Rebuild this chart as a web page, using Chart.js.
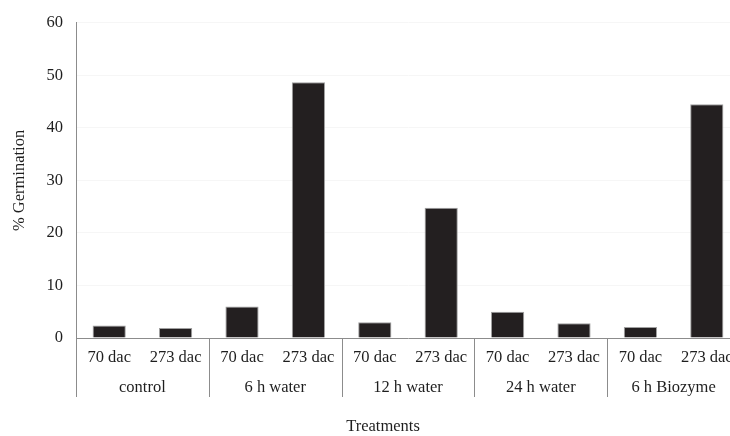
<!DOCTYPE html>
<html>
<head>
<meta charset="utf-8">
<script src="https://cdn.jsdelivr.net/npm/chart.js@4/dist/chart.umd.min.js"></script>
<style>
  html, body { margin: 0; padding: 0; background: #fff; overflow: hidden; }
  #wrap { width: 740px; height: 436px; }
</style>
</head>
<body>
<div id="wrap"><canvas id="germChart"></canvas></div>
<script>
// treatments and the two sampling dates inside each one
const treatments = ['control', '6 h water', '12 h water', '24 h water', '6 h Biozyme'];
const dates = ['70 dac', '273 dac'];
// % germination, in treatment order, 70 dac then 273 dac
const germination = [2.4, 1.9, 6.0, 48.7, 3.0, 24.8, 5.0, 2.8, 2.1, 44.5];
const yTicks = [0, 10, 20, 30, 40, 50, 60];

const FONT = '"Liberation Serif", "Times New Roman", serif';
const AXIS_GREY = '#8c8c8c';

const labels = treatments.flatMap(t => dates.map(d => t + '|' + d));

// draws the two rows of category labels, the group dividers and axis titles
const groupLabels = {
  id: 'groupLabels',
  afterDraw(chart) {
    const ctx = chart.ctx;
    const x = chart.scales.x;
    const area = chart.chartArea;
    const n = dates.length;
    const bottom = area.bottom + 59;
    ctx.save();
    ctx.fillStyle = '#1e1e1e';
    ctx.font = '16.5px ' + FONT;
    ctx.textAlign = 'center';
    ctx.textBaseline = 'middle';

    labels.forEach((l, i) => {
      ctx.fillText(l.split('|')[1], x.getPixelForValue(i), area.bottom + 20);
    });

    treatments.forEach((t, g) => {
      const a = x.getPixelForValue(g * n);
      const b = x.getPixelForValue(g * n + n - 1);
      ctx.fillText(t, (a + b) / 2, area.bottom + 50);
    });

    ctx.strokeStyle = AXIS_GREY;
    ctx.lineWidth = 1;
    ctx.beginPath();
    ctx.moveTo(Math.round(area.left) + 0.5, area.bottom);
    ctx.lineTo(Math.round(area.left) + 0.5, bottom);
    for (let g = 1; g < treatments.length; g++) {
      const sep = (x.getPixelForValue(g * n - 1) + x.getPixelForValue(g * n)) / 2;
      ctx.moveTo(Math.round(sep) + 0.5, area.bottom);
      ctx.lineTo(Math.round(sep) + 0.5, bottom);
    }
    ctx.stroke();

    // axis titles
    ctx.fillText('Treatments', 383, 427);
    ctx.translate(20, (area.top + area.bottom) / 2);
    ctx.rotate(-Math.PI / 2);
    ctx.fillText('% Germination', 0, 0);
    ctx.restore();
  }
};

new Chart(document.getElementById('germChart'), {
  type: 'bar',
  data: {
    labels: labels,
    datasets: [{
      data: germination,
      backgroundColor: '#231f20',
      borderColor: '#a0a0a0',
      borderWidth: 1,
      barPercentage: 0.5,
      categoryPercentage: 1.0
    }]
  },
  options: {
    responsive: true,
    maintainAspectRatio: false,
    animation: false,
    layout: { padding: { top: 20, right: 0, left: 0, bottom: 0 } },
    plugins: {
      legend: { display: false },
      tooltip: { enabled: false }
    },
    scales: {
      x: {
        ticks: { display: false },
        grid: { display: false, drawTicks: false },
        border: { display: true, color: AXIS_GREY, width: 1 },
        afterFit: (s) => { s.height = 98; }
      },
      y: {
        min: 0,
        max: 60,
        afterBuildTicks: (s) => { s.ticks = yTicks.map(v => ({ value: v })); },
        ticks: {
          padding: 13,
          color: '#1e1e1e',
          font: { family: FONT, size: 16.5 }
        },
        grid: { color: '#f6f6f6', drawTicks: false },
        border: { display: true, color: AXIS_GREY, width: 1 },
        afterFit: (s) => { s.width = 76; }
      }
    }
  },
  plugins: [groupLabels]
});
</script>
</body>
</html>
